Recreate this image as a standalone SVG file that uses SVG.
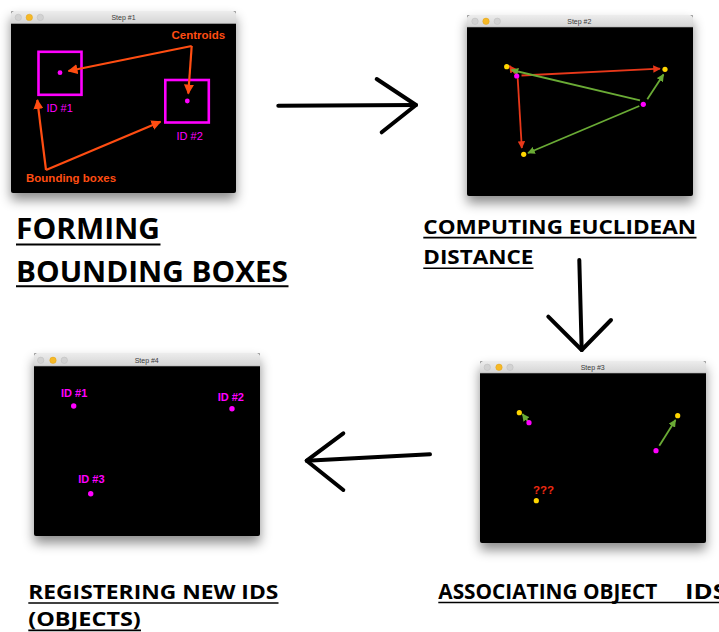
<svg xmlns="http://www.w3.org/2000/svg" width="719" height="632" viewBox="0 0 719 632">
  <defs>
    <linearGradient id="bar" x1="0" y1="0" x2="0" y2="1">
      <stop offset="0" stop-color="#ededed"/>
      <stop offset="1" stop-color="#d4d4d4"/>
    </linearGradient>
    <filter id="shadow" x="-20%" y="-20%" width="140%" height="150%">
      <feDropShadow dx="0" dy="7" stdDeviation="6" flood-color="#000" flood-opacity="0.45"/>
    </filter>
    <marker id="hOrange" viewBox="0 0 10 10" refX="9" refY="5" markerUnits="userSpaceOnUse" markerWidth="10" markerHeight="10" orient="auto">
      <path d="M0,0 L10,5 L0,10 z" fill="#ff4d12"/>
    </marker>
    <marker id="hRed" viewBox="0 0 10 10" refX="9" refY="5" markerUnits="userSpaceOnUse" markerWidth="7.5" markerHeight="7.5" orient="auto">
      <path d="M0,0 L10,5 L0,10 z" fill="#e8381a"/>
    </marker>
    <marker id="hGreen" viewBox="0 0 10 10" refX="9" refY="5" markerUnits="userSpaceOnUse" markerWidth="7.5" markerHeight="7.5" orient="auto">
      <path d="M0,0 L10,5 L0,10 z" fill="#6aab35"/>
    </marker>
  </defs>
  <style>
    .body { fill: #000; }
    .bar { fill: url(#bar); }
    .barline { stroke: #b0b0b0; stroke-width: 0.6; }
    .wtitle { font-family: "Liberation Sans", Arial, sans-serif; font-size: 7px; fill: #3a3a3a; text-anchor: middle; }
    .tl { fill: #d2d2d2; stroke: #bcbcbc; stroke-width: 0.5; }
    .tly { fill: #f6b927; stroke: #e0a21a; stroke-width: 0.5; }
    .mag { fill: #ff00ff; }
    .yel { fill: #ffd600; }
    .lbl { font-family: "Liberation Sans", Arial, sans-serif; font-size: 11px; }
    .lblb { font-family: "Liberation Sans", Arial, sans-serif; font-size: 11.5px; font-weight: bold; }
    .box { fill: none; stroke: #ff00ff; stroke-width: 2.6; }
    .orange { stroke: #ff4d12; stroke-width: 2.2; fill: none; marker-end: url(#hOrange); }
    .red { stroke: #e8381a; stroke-width: 1.8; fill: none; marker-end: url(#hRed); }
    .green { stroke: #6aab35; stroke-width: 1.8; fill: none; marker-end: url(#hGreen); }
    .big { stroke: #000; stroke-width: 4; fill: none; stroke-linecap: round; stroke-linejoin: round; }
    .title { font-family: "Open Sans", "Liberation Sans", sans-serif; font-weight: bold; fill: #000; }
    .ul { stroke: #000; stroke-width: 1.6; }
  </style>

  <!-- Step 1: bounding boxes and centroids -->
  <g id="step1">
    <g filter="url(#shadow)">
      <rect class="body" x="11" y="11" width="225" height="182" rx="2"/>
    </g>
    <path class="bar" d="M11,23.5 V14 Q11,11 14,11 H233 Q236,11 236,14 V23.5 Z"/>
    <line class="barline" x1="11" y1="23.5" x2="236" y2="23.5"/>
    <circle class="tl" cx="18.3" cy="17.4" r="3.2"/>
    <circle class="tly" cx="29.3" cy="17.4" r="3.2"/>
    <circle class="tl" cx="40.3" cy="17.4" r="3.2"/>
    <text class="wtitle" x="123.5" y="20">Step #1</text>
    <rect class="box" x="38.5" y="51.8" width="43" height="43"/>
    <circle class="mag" cx="60" cy="72.7" r="2.4"/>
    <rect class="box" x="165.3" y="80" width="43.5" height="42.5"/>
    <circle class="mag" cx="187.3" cy="101" r="2.4"/>
    <text class="lbl mag" x="46.5" y="112">ID #1</text>
    <text class="lbl mag" x="176.5" y="140">ID #2</text>
    <text class="lblb" x="171.5" y="38.5" fill="#ff4d12">Centroids</text>
    <text class="lblb" x="26" y="181.8" fill="#ff4d12">Bounding boxes</text>
    <path class="orange" d="M191.7,46 L68.5,71"/>
    <path class="orange" d="M191.7,46 L188.3,93.5"/>
    <path class="orange" d="M46,170 L37.3,100"/>
    <path class="orange" d="M46,170 L160.5,121.7"/>
  </g>

  <!-- Step 2: distances between centroids -->
  <g id="step2">
    <g filter="url(#shadow)">
      <rect class="body" x="467" y="15" width="226" height="181" rx="2"/>
    </g>
    <path class="bar" d="M467,27 V18 Q467,15 470,15 H690 Q693,15 693,18 V27 Z"/>
    <line class="barline" x1="467" y1="27" x2="693" y2="27"/>
    <circle class="tl" cx="475" cy="21.3" r="3.2"/>
    <circle class="tly" cx="486" cy="21.3" r="3.2"/>
    <circle class="tl" cx="497.3" cy="21.3" r="3.2"/>
    <text class="wtitle" x="579.3" y="23.8">Step #2</text>
    <path class="red" d="M521.5,75.5 L660,68.7"/>
    <path class="red" d="M515,73.5 L509.5,65.8"/>
    <path class="red" d="M517.7,78.3 L521.8,148"/>
    <path class="green" d="M640,100.3 L511.5,70"/>
    <path class="green" d="M647.3,99.3 L663.5,74.5"/>
    <path class="green" d="M639.3,106 L528,153"/>
    <circle class="yel" cx="506.7" cy="66.7" r="2.6"/>
    <circle class="mag" cx="516.7" cy="76" r="2.6"/>
    <circle class="yel" cx="665" cy="69.3" r="2.6"/>
    <circle class="mag" cx="643.3" cy="104.3" r="2.6"/>
    <circle class="yel" cx="523.7" cy="154.3" r="2.6"/>
  </g>

  <!-- Step 3: matching old centroids to new ones -->
  <g id="step3">
    <g filter="url(#shadow)">
      <rect class="body" x="480" y="361" width="226" height="182" rx="2"/>
    </g>
    <path class="bar" d="M480,373 V364 Q480,361 483,361 H703 Q706,361 706,364 V373 Z"/>
    <line class="barline" x1="480" y1="373" x2="706" y2="373"/>
    <circle class="tl" cx="487.3" cy="367.3" r="3.2"/>
    <circle class="tly" cx="499" cy="367.3" r="3.2"/>
    <circle class="tl" cx="510" cy="367.3" r="3.2"/>
    <text class="wtitle" x="592.7" y="369.8">Step #3</text>
    <path class="green" d="M528,421.5 L522.5,414"/>
    <path class="green" d="M659.3,445.7 L675.5,420"/>
    <circle class="yel" cx="519.3" cy="412.7" r="2.6"/>
    <circle class="mag" cx="529" cy="422.7" r="2.6"/>
    <circle class="yel" cx="677.7" cy="415.7" r="2.6"/>
    <circle class="mag" cx="656" cy="450.7" r="2.6"/>
    <circle class="yel" cx="536.3" cy="500.7" r="2.6"/>
    <text class="lblb" x="533" y="494" fill="#ee2a12">???</text>
  </g>

  <!-- Step 4: new IDs registered -->
  <g id="step4">
    <g filter="url(#shadow)">
      <rect class="body" x="34" y="353" width="226" height="183" rx="2"/>
    </g>
    <path class="bar" d="M34,366 V356 Q34,353 37,353 H257 Q260,353 260,356 V366 Z"/>
    <line class="barline" x1="34" y1="366" x2="260" y2="366"/>
    <circle class="tl" cx="40.7" cy="360.3" r="3.2"/>
    <circle class="tly" cx="53" cy="360.3" r="3.2"/>
    <circle class="tl" cx="64.3" cy="360.3" r="3.2"/>
    <text class="wtitle" x="146.7" y="362.8">Step #4</text>
    <text class="lblb mag" x="61" y="396.7" style="font-size:11px">ID #1</text>
    <circle class="mag" cx="73.7" cy="406" r="2.7"/>
    <text class="lblb mag" x="217.7" y="400.7" style="font-size:11px">ID #2</text>
    <circle class="mag" cx="232" cy="408.7" r="2.7"/>
    <text class="lblb mag" x="78.3" y="483.3" style="font-size:11px">ID #3</text>
    <circle class="mag" cx="90.7" cy="493.7" r="2.7"/>
  </g>

  <!-- Flow arrows between the steps -->
  <g id="connectors">
    <path class="big" d="M278.3,105.7 L416,105"/>
    <path class="big" d="M376.7,79 L416,105 L381.7,132.3"/>
    <path class="big" d="M579.3,260 L581.7,350"/>
    <path class="big" d="M548.3,316.7 L581.7,350 L611,320"/>
    <path class="big" d="M430,454.3 L306.7,460.7"/>
    <path class="big" d="M343.3,433.3 L306.7,460.7 L343.3,490"/>
  </g>

  <!-- Step captions -->
  <g id="captions">
    <text class="title" x="16" y="239.3" font-size="29" textLength="144" lengthAdjust="spacingAndGlyphs">FORMING</text>
    <line class="ul" x1="16" y1="244.5" x2="160.5" y2="244.5" style="stroke-width:2"/>
    <text class="title" x="16" y="281.7" font-size="29" textLength="272" lengthAdjust="spacingAndGlyphs">BOUNDING BOXES</text>
    <line class="ul" x1="16" y1="286.3" x2="288.5" y2="286.3" style="stroke-width:2"/>

    <text class="title" x="423.3" y="234.3" font-size="20" textLength="272.7" lengthAdjust="spacingAndGlyphs">COMPUTING EUCLIDEAN</text>
    <line class="ul" x1="423.3" y1="237.6" x2="696.5" y2="237.6"/>
    <text class="title" x="423.3" y="264.3" font-size="20" textLength="110" lengthAdjust="spacingAndGlyphs">DISTANCE</text>
    <line class="ul" x1="423.3" y1="268.3" x2="533.5" y2="268.3"/>

    <text class="title" x="28.3" y="599.3" font-size="19.8" textLength="250" lengthAdjust="spacingAndGlyphs">REGISTERING NEW IDS</text>
    <line class="ul" x1="28.3" y1="603" x2="278.5" y2="603"/>
    <text class="title" x="28.3" y="626.2" font-size="19.8" textLength="112.5" lengthAdjust="spacingAndGlyphs">(OBJECTS)</text>
    <line class="ul" x1="28.3" y1="630.4" x2="141" y2="630.4"/>

    <text class="title" y="599.3" font-size="21"><tspan x="438.3" textLength="219" lengthAdjust="spacingAndGlyphs">ASSOCIATING OBJECT</tspan><tspan x="685" textLength="42" lengthAdjust="spacingAndGlyphs">IDS</tspan></text>
    <line class="ul" x1="438.3" y1="602.5" x2="719" y2="602.5"/>
  </g>
</svg>
